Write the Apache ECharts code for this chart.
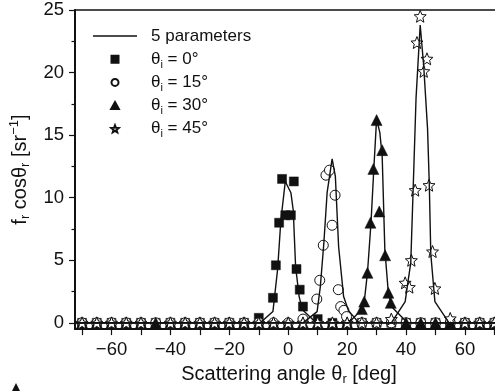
<!DOCTYPE html>
<html>
<head>
<meta charset="utf-8">
<script src="https://cdn.jsdelivr.net/npm/echarts@6/dist/echarts.min.js"></script>
<style>
  html, body { margin: 0; padding: 0; background: #fff; }
  #chart-container { width: 495px; height: 391px; }
</style>
</head>
<body>
<div id="chart-container"></div>
<script>
var chartDom = document.getElementById('chart-container');
var myChart = echarts.init(chartDom);

// measured angles on the flat part (every 5 deg)
var baseAngles = [-70, -65, -60, -55, -50, -45, -40, -35, -30, -25, -20, -15, -10, -5, 0,
                  5, 10, 15, 20, 25, 30, 35, 40, 45, 50, 55, 60, 65, 70];

// measured points around each specular peak [angle, value]
var peak0 = [[-10, 0.4], [-5.2, 2.0], [-4.2, 4.6], [-3.1, 8.0], [-2.1, 11.5], [-1.0, 8.6],
             [0.9, 8.6], [1.9, 11.3], [2.8, 4.3], [3.9, 2.65], [5.0, 1.3], [10, 0.3]];
var peak15 = [[5, 0.3], [9.7, 1.9], [10.7, 3.4], [11.9, 6.2], [12.8, 11.8], [14.0, 12.2],
              [14.9, 7.8], [15.9, 10.2], [17.0, 2.65], [17.8, 1.3], [18.9, 1.0], [19.8, 0.5]];
var peak30 = [[25, 1.1], [25.8, 1.7], [26.9, 4.0], [27.9, 8.0], [28.9, 12.3], [30.0, 16.2],
              [30.9, 8.9], [31.9, 13.8], [32.9, 5.4], [34.0, 2.4], [34.8, 1.6]];
var peak45 = [[35, 0.3], [39.7, 3.2], [41.1, 2.85], [41.8, 5.0], [43.1, 10.6], [43.7, 22.4],
              [44.8, 24.5], [46.0, 20.1], [47.1, 21.1], [47.8, 11.0], [49.0, 5.7], [49.8, 2.75], [55, 0.35]];

// flat-part angles replaced by the peak points above
var skip0 = [-10, -5, 0, 5, 10];
var skip15 = [5, 10, 15, 20];
var skip30 = [25, 30, 35];
var skip45 = [-45, 35, 40, 45, 50, 55];

// 5 parameter model
var fit0 = [[-75, 0], [-9.5, 0], [-5.2, 0.9], [-3.6, 4.3], [-2.5, 8.2], [-1.0, 11.3], [0.9, 10.4],
            [1.7, 9.0], [2.5, 4.5], [3.7, 2.1], [4.8, 1.05], [9.5, 0], [75, 0]];
var fit15 = [[-75, 0], [5, 0], [9.8, 0.9], [10.9, 2.9], [12.1, 6.4], [13.2, 10.4], [14.9, 13.1],
             [16.0, 11.7], [17.1, 6.1], [18.8, 2.1], [20.4, 1.0], [24, 0], [75, 0]];
var fit30 = [[-75, 0], [20.5, 0], [24.9, 1.05], [26.0, 2.1], [26.9, 4.0], [28.1, 8.0], [29.1, 12.5],
             [30.0, 16.3], [31.1, 15.2], [31.9, 13.3], [32.8, 5.85], [33.9, 2.65], [35.0, 1.3], [40.5, 0], [75, 0]];
var fit45 = [[-75, 0], [35, 0], [39.7, 1.7], [40.6, 3.2], [41.6, 4.8], [42.4, 10.6], [43.4, 18.0],
             [44.8, 23.8], [46.0, 20.5], [47.3, 15.5], [47.9, 11.0], [48.4, 5.5], [49.8, 1.7], [54.6, 0], [75, 0]];

var yTicks = [0, 5, 10, 15, 20, 25];
var yMinorTicks = [2.5, 7.5, 12.5, 17.5, 22.5];
var xTicks = [-70, -60, -50, -40, -30, -20, -10, 0, 10, 20, 30, 40, 50, 60, 70];
var xLabels = [-60, -40, -20, 0, 20, 40, 60];

var legendNames = ['5 parameters', '0', '15', '30', '45'];

var linePath = 'path://M0,0 L44,0 L44,1.4 L0,1.4 Z';
var squarePath = 'path://M0,0 L10,0 L10,10 L0,10 Z';
var trianglePath = 'path://M50,0 L100,90 L0,90 Z';
var starPath = 'path://M50,0 L62.93,32.2 L97.55,34.55 L70.92,56.8 L79.39,90.45 L50,72 L20.61,90.45 L29.08,56.8 L2.45,34.55 L37.07,32.2 Z';
var font = 'Liberation Sans';
var ink = '#111';

function withBase(peak, skip) {
  var pts = baseAngles.filter(function (a) { return skip.indexOf(a) < 0; })
    .map(function (a) { return [a, 0]; });
  return pts.concat(peak);
}

function fitSeries(data) {
  return {
    name: legendNames[0], type: 'line', data: data, symbol: 'none', showSymbol: false,
    lineStyle: { color: ink, width: 1.4 }, itemStyle: { color: ink },
    z: 5, silent: true
  };
}

function minus(v) { return v < 0 ? '\u2212' + (-v) : '' + v; }

var option = {
  animation: false,
  backgroundColor: '#fff',
  textStyle: { fontFamily: font, color: ink },
  grid: { left: 70, right: 0, top: 10, bottom: 61.5 },
  legend: {
    orient: 'vertical', left: 88, top: 19,
    itemWidth: 44, itemHeight: 7, itemGap: -0.8,
    data: [
      { name: legendNames[0], icon: linePath },
      { name: legendNames[1] }, { name: legendNames[2] }, { name: legendNames[3] }, { name: legendNames[4] }
    ],
    textStyle: {
      fontFamily: font, fontSize: 17, color: ink, lineHeight: 24, padding: [0, 0, 0, 9],
      rich: {
        s: { fontFamily: font, fontSize: 11, color: ink, padding: [11, 0, 0, 0] }
      }
    },
    formatter: function (name) {
      if (name === legendNames[0]) return name;
      return '\u03b8{s|i} = ' + name + '\u00b0';
    }
  },
  xAxis: [{
    type: 'value', position: 'bottom', min: -72.4, max: 70.2,
    name: 'Scattering angle \u03b8{s|r} [deg]', nameLocation: 'middle', nameGap: 20,
    nameTextStyle: {
      fontFamily: font, fontSize: 20, color: ink, padding: [0, 0, 0, 8],
      rich: { s: { fontFamily: font, fontSize: 13, color: ink, padding: [11, 0, 0, 0] } }
    },
    axisLine: { show: true, onZero: false, lineStyle: { color: ink, width: 2 } },
    axisTick: { show: true, inside: false, length: 6, customValues: xTicks, lineStyle: { color: ink, width: 1.2 } },
    axisLabel: { customValues: xLabels, formatter: minus, fontFamily: font, fontSize: 18.5, color: ink, margin: 11 },
    splitLine: { show: false }
  }, {
    type: 'value', position: 'top', min: -72.4, max: 70.2,
    axisLine: { show: true, onZero: false, lineStyle: { color: ink, width: 1.5 } },
    axisTick: { show: false }, axisLabel: { show: false }, splitLine: { show: false }
  }],
  yAxis: [{
    type: 'value', position: 'left', min: -0.5, max: 25,
    name: 'f{s|r} cos\u03b8{s|r} [sr{p|\u22121}]', nameLocation: 'middle', nameGap: 43, nameRotate: 90,
    nameTextStyle: {
      fontFamily: font, fontSize: 20, color: ink,
      rich: {
        s: { fontFamily: font, fontSize: 13, color: ink, padding: [11, 0, 0, 0] },
        p: { fontFamily: font, fontSize: 13, color: ink, padding: [0, 0, 11, 0] }
      }
    },
    axisLine: { show: true, onZero: false, lineStyle: { color: ink, width: 2 } },
    axisTick: { show: true, inside: false, length: 6, customValues: yTicks, lineStyle: { color: ink, width: 1.2 } },
    axisLabel: { customValues: yTicks, fontFamily: font, fontSize: 18.5, color: ink, margin: 11 },
    splitLine: { show: false }
  }, {
    type: 'value', position: 'left', min: -0.5, max: 25,
    axisLine: { show: false, onZero: false },
    axisTick: { show: true, inside: false, length: 3.5, customValues: yMinorTicks, lineStyle: { color: ink, width: 1.2 } },
    axisLabel: { show: false }, splitLine: { show: false }
  }],
  graphic: [{
    type: 'polygon', left: 12, top: 383,
    shape: { points: [[4, 0], [0, 8], [8, 8]] },
    style: { fill: ink }
  }],
  series: [
    fitSeries(fit0), fitSeries(fit15), fitSeries(fit30), fitSeries(fit45),
    {
      name: legendNames[1], type: 'scatter', data: withBase(peak0, skip0),
      symbol: squarePath, symbolSize: 9, z: 2,
      itemStyle: { color: ink, borderColor: ink, borderWidth: 0.5, opacity: 1 }
    },
    {
      name: legendNames[2], type: 'scatter', data: withBase(peak15, skip15),
      symbol: 'circle', symbolSize: 10, z: 2,
      itemStyle: { color: '#fff', borderColor: ink, borderWidth: 1, opacity: 1 }
    },
    {
      name: legendNames[3], type: 'scatter', data: withBase(peak30, skip30),
      symbol: trianglePath, symbolSize: 11, z: 2,
      itemStyle: { color: ink, borderColor: ink, borderWidth: 0.5, opacity: 1 }
    },
    {
      name: legendNames[4], type: 'scatter', data: withBase(peak45, skip45),
      symbol: starPath, symbolSize: 12, z: 2,
      itemStyle: { color: '#fff', borderColor: ink, borderWidth: 1, opacity: 1 }
    }
  ]
};

option && myChart.setOption(option);
</script>
</body>
</html>
